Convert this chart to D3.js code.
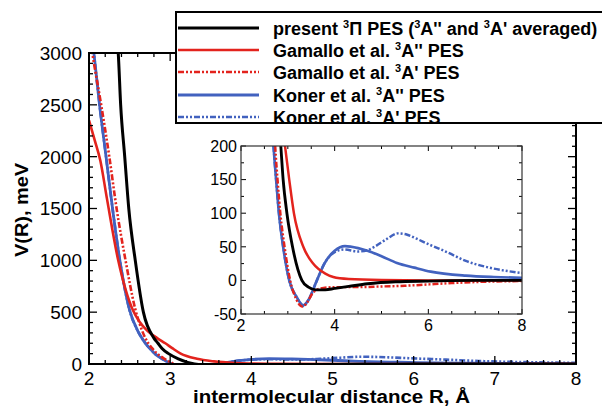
<!DOCTYPE html>
<html>
<head lang="en">
<meta charset="UTF-8">
<title>PES comparison</title>
<style>
body { margin: 0; background: #fff; }
.tick-label { font-family: "Liberation Sans", Arial, sans-serif; }
.bold { font-family: "Liberation Sans", Arial, sans-serif; font-weight: bold; }
</style>
<script src="https://cdn.jsdelivr.net/npm/d3@7/dist/d3.min.js"></script>
</head>
<body>
<div id="vis"></div>
<script>

// ---- data (R in Angstrom, V in meV) ----
var presentR = [2.33, 2.36, 2.39, 2.44, 2.49, 2.57, 2.67, 2.80, 2.85, 2.90, 2.98, 3.10, 3.30, 3.44, 3.60, 3.80, 4.00, 4.30, 4.70, 5.30, 6.00, 7.00, 8.00];
var presentV = [3200, 3000, 2500, 2000, 1500, 1000, 500, 250, 200, 150, 100, 50, 0, -10, -14, -14, -12, -9, -5, -2, -1, 0, 0];

var gamAppR = [2.00, 2.07, 2.14, 2.22, 2.36, 2.45, 2.54, 2.62, 2.72, 2.84, 2.94, 3.03, 3.13, 3.33, 3.54, 3.80, 3.97, 4.30, 5.00, 6.00, 8.00];
var gamAppV = [2350, 2160, 1960, 1600, 1000, 720, 520, 410, 320, 250, 200, 150, 100, 50, 25, 10, 5, 2, 0.5, 0, 0];

var gamApR = [2.00, 2.04, 2.15, 2.25, 2.34, 2.45, 2.57, 2.65, 2.73, 2.78, 2.84, 2.93, 3.05, 3.18, 3.31, 3.42, 3.52, 3.70, 4.00, 4.50, 5.00, 5.50, 6.00, 6.50, 7.20, 8.00];
var gamApV = [3200, 3000, 2500, 2000, 1500, 1000, 530, 330, 200, 150, 100, 50, 0, -28, -39, -32, -20, -12, -10, -10, -9, -8, -6, -4, -2, -1];

var konAppR = [2.03, 2.06, 2.13, 2.21, 2.29, 2.38, 2.50, 2.60, 2.66, 2.70, 2.75, 2.81, 2.90, 3.03, 3.19, 3.33, 3.45, 3.62, 3.78, 4.00, 4.22, 4.50, 4.70, 5.00, 5.33, 5.70, 6.05, 6.80, 7.40, 8.00];
var konAppV = [3200, 3000, 2500, 2000, 1500, 1000, 520, 320, 240, 195, 150, 100, 50, 0, -25, -37, -28, 0, 25, 44, 51, 48, 44, 36, 26, 19, 13, 7, 5, 4];

var konApR = [2.03, 2.06, 2.13, 2.21, 2.29, 2.38, 2.50, 2.60, 2.66, 2.70, 2.75, 2.81, 2.90, 3.03, 3.19, 3.33, 3.45, 3.62, 3.78, 4.00, 4.20, 4.50, 4.70, 4.85, 5.10, 5.35, 5.55, 5.75, 6.00, 6.40, 6.80, 7.30, 8.00];
var konApV = [3200, 3000, 2500, 2000, 1500, 1000, 520, 320, 240, 195, 150, 100, 50, 0, -25, -38, -28, 0, 25, 42, 46, 43, 45, 50, 61, 70, 68, 62, 54, 42, 29, 19, 11];

var seriesNames = ["present", "gamApp", "gamAp", "konApp", "konAp"];
var mainXTicks = [2, 3, 4, 5, 6, 7, 8];
var mainYTicks = [0, 500, 1000, 1500, 2000, 2500, 3000];
var insetXTicks = [2, 4, 6, 8];
var insetYTicks = [-50, 0, 50, 100, 150, 200];

var red = "#e3231d";
var blue = "#4262bf";
var dashDot = "6,2,2,2,2,2";

var series = [
  {name: seriesNames[0], R: presentR, V: presentV, color: "black", dash: null, w: 3},
  {name: seriesNames[1], R: gamAppR, V: gamAppV, color: red, dash: null, w: 2.6},
  {name: seriesNames[2], R: gamApR, V: gamApV, color: red, dash: dashDot, w: 2.6},
  {name: seriesNames[3], R: konAppR, V: konAppV, color: blue, dash: null, w: 2.8},
  {name: seriesNames[4], R: konApR, V: konApV, color: blue, dash: dashDot, w: 2.6}
];

var width = 602, height = 408;
var svg = d3.select("#vis").append("svg")
  .attr("width", width)
  .attr("height", height);

// draws a framed plot with ticks on all four sides
function drawPlot(g, x, y, opt) {
  var x0 = x.range()[0], x1 = x.range()[1];
  var y0 = y.range()[0], y1 = y.range()[1];

  g.append("rect")
    .attr("x", x0).attr("y", y1)
    .attr("width", x1 - x0).attr("height", y0 - y1)
    .attr("fill", "white");

  var clipId = opt.id + "-clip";
  g.append("clipPath").attr("id", clipId)
    .append("rect")
    .attr("x", x0).attr("y", y1)
    .attr("width", x1 - x0).attr("height", y0 - y1);

  var line = d3.line()
    .x(function(d) { return x(d[0]); })
    .y(function(d) { return y(d[1]); })
    .curve(d3.curveMonotoneX);

  g.append("g").attr("clip-path", "url(#" + clipId + ")")
    .selectAll("path")
    .data(opt.order.map(function(i) { return series[i]; }))
    .enter()
    .append("path")
    .attr("d", function(s) { return line(d3.zip(s.R, s.V)); })
    .attr("fill", "none")
    .attr("stroke", function(s) { return s.color; })
    .attr("stroke-width", function(s) { return s.w * opt.lw; })
    .attr("stroke-dasharray", function(s) { return s.dash; })
    .attr("stroke-linejoin", "round");

  // minor + major ticks
  var mx = d3.range(x.domain()[0], x.domain()[1] + 1e-9, opt.xMinor);
  var my = d3.range(y.domain()[0], y.domain()[1] + 1e-9, opt.yMinor);
  var tk = g.append("g").attr("stroke", "black").attr("stroke-width", opt.tickW);
  mx.forEach(function(v) {
    var major = opt.xTicks.some(function(t) { return Math.abs(t - v) < 1e-6; });
    var len = major ? opt.major : opt.minor;
    tk.append("line").attr("x1", x(v)).attr("x2", x(v)).attr("y1", y0).attr("y2", y0 - len);
    tk.append("line").attr("x1", x(v)).attr("x2", x(v)).attr("y1", y1).attr("y2", y1 + len);
  });
  my.forEach(function(v) {
    var major = opt.yTicks.some(function(t) { return Math.abs(t - v) < 1e-6; });
    var len = major ? opt.major : opt.minor;
    tk.append("line").attr("y1", y(v)).attr("y2", y(v)).attr("x1", x0).attr("x2", x0 + len);
    tk.append("line").attr("y1", y(v)).attr("y2", y(v)).attr("x1", x1).attr("x2", x1 - len);
  });

  g.append("rect")
    .attr("x", x0).attr("y", y1)
    .attr("width", x1 - x0).attr("height", y0 - y1)
    .attr("fill", "none")
    .attr("stroke", opt.frame)
    .attr("stroke-width", opt.frameW);

  g.selectAll(".xl").data(opt.xTicks).enter().append("text")
    .attr("class", "tick-label")
    .attr("x", function(d) { return x(d); })
    .attr("y", y0 + opt.xLabDy)
    .attr("text-anchor", "middle")
    .attr("font-size", opt.fs)
    .text(function(d) { return d; });

  g.selectAll(".yl").data(opt.yTicks).enter().append("text")
    .attr("class", "tick-label")
    .attr("x", x0 - opt.yLabDx)
    .attr("y", function(d) { return y(d); })
    .attr("dy", "0.36em")
    .attr("text-anchor", "end")
    .attr("font-size", opt.fs)
    .text(function(d) { return d; });
}

// main plot
var xMain = d3.scaleLinear().domain([2, 8]).range([89, 576]);
var yMain = d3.scaleLinear().domain([0, 3000]).range([364, 53]);
drawPlot(svg.append("g"), xMain, yMain, {
  id: "main", order: [3, 4, 2, 1, 0], lw: 1,
  xMinor: 0.2, yMinor: 100, xTicks: mainXTicks, yTicks: mainYTicks,
  major: 8, minor: 4, tickW: 1.3, frame: "black", frameW: 2,
  fs: "19px", xLabDy: 21, yLabDx: 7
});

// axis titles
svg.append("text")
  .attr("class", "bold")
  .attr("x", 193).attr("y", 403)
  .attr("font-size", "18px")
  .attr("textLength", 277)
  .attr("lengthAdjust", "spacingAndGlyphs")
  .text("intermolecular distance R, \u00c5");

svg.append("text")
  .attr("class", "bold")
  .attr("transform", "translate(28,257) rotate(-90)")
  .attr("font-size", "18px")
  .attr("textLength", 94)
  .attr("lengthAdjust", "spacingAndGlyphs")
  .text("V(R), meV");

// inset
var xIn = d3.scaleLinear().domain([2, 8]).range([241, 522]);
var yIn = d3.scaleLinear().domain([-50, 200]).range([314, 146]);
drawPlot(svg.append("g"), xIn, yIn, {
  id: "inset", order: [4, 3, 2, 1, 0], lw: 0.95,
  xMinor: 0.5, yMinor: 25, xTicks: insetXTicks, yTicks: insetYTicks,
  major: 5, minor: 3, tickW: 1, frame: "#333", frameW: 1.2,
  fs: "16px", xLabDy: 17, yLabDx: 4
});

// legend
var legend = svg.append("g");
legend.append("rect")
  .attr("x", 176).attr("y", 12)
  .attr("width", 440).attr("height", 111)
  .attr("fill", "white")
  .attr("stroke", "black")
  .attr("stroke-width", 2);

var legendText = [
  [["present ", 0], ["3", 1], ["\u03a0 PES (", 0], ["3", 1], ["A'' and ", 0], ["3", 1], ["A' averaged)", 0]],
  [["Gamallo et al. ", 0], ["3", 1], ["A'' PES", 0]],
  [["Gamallo et al. ", 0], ["3", 1], ["A' PES", 0]],
  [["Koner et al. ", 0], ["3", 1], ["A'' PES", 0]],
  [["Koner et al. ", 0], ["3", 1], ["A' PES", 0]]
];
var rowY = [28, 50, 72, 95, 117];

series.forEach(function(s, i) {
  legend.append("line")
    .attr("x1", 178).attr("x2", 259)
    .attr("y1", rowY[i]).attr("y2", rowY[i])
    .attr("stroke", s.color)
    .attr("stroke-width", s.w)
    .attr("stroke-dasharray", s.dash);

  var t = legend.append("text")
    .attr("class", "bold")
    .attr("x", 273).attr("y", rowY[i] + 6.5)
    .attr("font-size", "18px");
  legendText[i].forEach(function(p) {
    var ts = t.append("tspan").text(p[0]);
    if (p[1]) {
      ts.attr("font-size", "11px").attr("dy", -7);
    } else {
      ts.attr("dy", t.node().childNodes.length > 1 ? 7 : 0);
    }
  });
});

</script>
</body>
</html>
